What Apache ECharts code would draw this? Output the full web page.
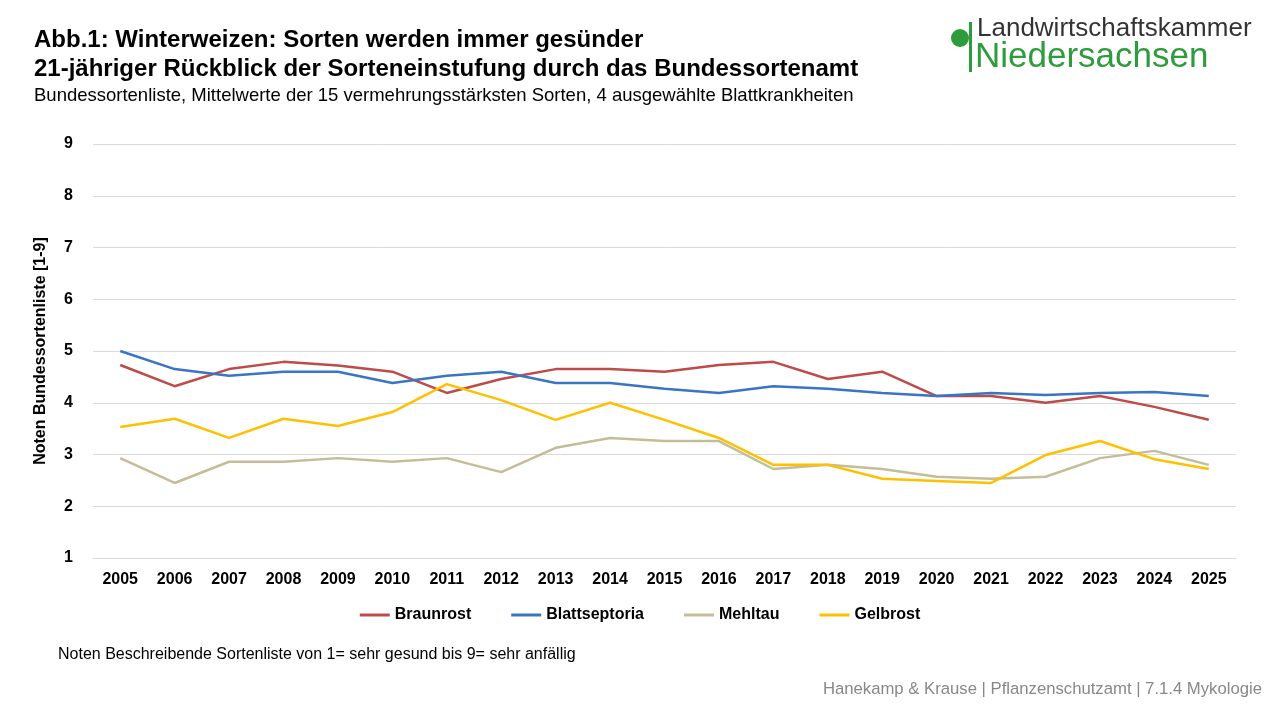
<!DOCTYPE html><html><head><meta charset="utf-8">
<script src="https://cdn.jsdelivr.net/npm/echarts@6/dist/echarts.min.js"></script>
<style>body{margin:0}#c{width:1280px;height:720px}</style></head><body><div id="c"></div>
<script>
const years=['2005','2006','2007','2008','2009','2010','2011','2012','2013','2014','2015','2016','2017','2018','2019','2020','2021','2022','2023','2024','2025'];
const braunrost=[4.73,4.32,4.65,4.79,4.72,4.6,4.19,4.46,4.65,4.65,4.6,4.73,4.79,4.46,4.6,4.13,4.13,4.0,4.13,3.92,3.67];
const blattseptoria=[5.0,4.65,4.52,4.6,4.6,4.38,4.52,4.6,4.38,4.38,4.27,4.19,4.32,4.27,4.19,4.13,4.19,4.15,4.19,4.21,4.13];
const mehltau=[2.93,2.45,2.86,2.86,2.93,2.86,2.93,2.66,3.13,3.32,3.26,3.26,2.72,2.8,2.72,2.57,2.53,2.57,2.93,3.07,2.8];
const gelbrost=[3.53,3.69,3.32,3.69,3.55,3.82,4.36,4.05,3.67,4.0,3.67,3.32,2.8,2.8,2.53,2.49,2.45,2.99,3.26,2.91,2.72];
const F='Liberation Sans, Arial, sans-serif';
const mk=(n,d,c)=>({name:n,type:'line',data:d,symbol:'none',lineStyle:{width:2.5,color:c},itemStyle:{color:c}});
const ch=echarts.init(document.getElementById('c'));
ch.setOption({
 textStyle:{fontFamily:F},
 grid:{left:93,right:44,top:144,bottom:162},
 xAxis:{type:'category',data:years,boundaryGap:true,axisTick:{show:false},axisLine:{lineStyle:{color:'#d9d9d9'}},
  axisLabel:{color:'#000',fontWeight:'bold',fontSize:16,margin:14}},
 yAxis:{type:'value',min:1,max:9,interval:1,name:'Noten Bundessortenliste [1-9]',nameLocation:'middle',nameGap:44,
  nameTextStyle:{fontWeight:'bold',fontSize:16,color:'#000'},
  axisLabel:{color:'#000',fontWeight:'bold',fontSize:16,margin:20},splitLine:{lineStyle:{color:'#d9d9d9'}},axisLine:{show:false}},
 legend:{bottom:92,left:'center',itemWidth:30,itemGap:40,icon:'path://M0,0H30V3H0Z',textStyle:{fontWeight:'bold',fontSize:16,color:'#000'},
  data:['Braunrost','Blattseptoria','Mehltau','Gelbrost']},
 series:[mk('Braunrost',braunrost,'#be4b48'),mk('Blattseptoria',blattseptoria,'#3a75c4'),mk('Mehltau',mehltau,'#c4bd97'),mk('Gelbrost',gelbrost,'#ffc000')],
 graphic:[
  {type:'text',left:34,top:28,style:{text:'Abb.1: Winterweizen: Sorten werden immer gesünder',font:'bold 24px '+F,fill:'#000'}},
  {type:'text',left:34,top:57,style:{text:'21-jähriger Rückblick der Sorteneinstufung durch das Bundessortenamt',font:'bold 24px '+F,fill:'#000'}},
  {type:'text',left:34,top:86,style:{text:'Bundessortenliste, Mittelwerte der 15 vermehrungsstärksten Sorten, 4 ausgewählte Blattkrankheiten',font:'18.5px '+F,fill:'#000'}},
  {type:'text',left:58,top:647,style:{text:'Noten Beschreibende Sortenliste von 1= sehr gesund bis 9= sehr anfällig',font:'16px '+F,fill:'#000'}},
  {type:'text',right:18,top:681,style:{text:'Hanekamp & Krause | Pflanzenschutzamt | 7.1.4 Mykologie',font:'16.7px '+F,fill:'#888'}},
  {type:'circle',shape:{cx:960,cy:38,r:9},style:{fill:'#2e9b3c'}},
  {type:'rect',shape:{x:969,y:22,width:3,height:50},style:{fill:'#2e9b3c'}},
  {type:'text',left:977,top:16,style:{text:'Landwirtschaftskammer',font:'26px '+F,fill:'#333'}},
  {type:'text',left:975,top:40,style:{text:'Niedersachsen',font:'35px '+F,fill:'#2e9b3c'}}
 ]
});
</script></body></html>
